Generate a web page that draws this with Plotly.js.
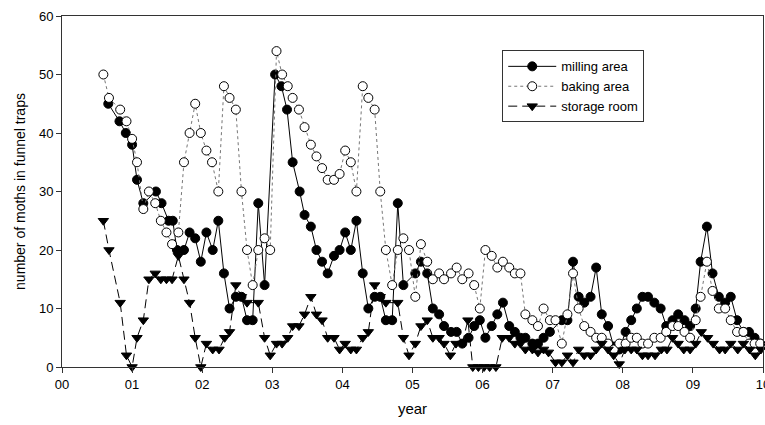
<!DOCTYPE html>
<html>
<head>
<meta charset="utf-8">
<script src="https://cdn.plot.ly/plotly-3.0.1.min.js"></script>
<style>html,body{margin:0;padding:0;background:#fff}#chart{width:765px;height:425px}</style>
</head>
<body>
<div id="chart"></div>
<script>
const millingX = [0.66,0.82,0.91,1.00,1.07,1.16,1.34,1.42,1.52,1.58,1.64,1.74,1.82,1.90,1.98,2.06,2.15,2.23,2.31,2.39,2.48,2.56,2.64,2.72,2.80,2.89,3.04,3.13,3.21,3.29,3.39,3.46,3.55,3.63,3.71,3.79,3.88,3.96,4.04,4.12,4.20,4.29,4.37,4.46,4.54,4.62,4.71,4.79,4.87,5.04,5.12,5.21,5.29,5.38,5.45,5.55,5.63,5.71,5.80,5.88,5.96,6.04,6.13,6.21,6.29,6.38,6.46,6.54,6.61,6.71,6.79,6.87,6.96,7.13,7.21,7.29,7.37,7.45,7.54,7.62,7.70,7.79,7.87,7.95,8.04,8.12,8.20,8.28,8.36,8.45,8.54,8.62,8.71,8.79,8.88,8.96,9.04,9.11,9.20,9.28,9.37,9.46,9.54,9.63,9.72,9.80,9.88,9.96];
const millingY = [45,42,40,38,32,28,30,28,25,25,20,20,23,22,18,23,20,25,16,10,12,12,8,8,28,14,50,48,44,35,30,26,24,20,18,16,19,20,23,20,25,16,10,12,12,8,8,28,14,16,18,16,10,9,7,6,6,4,5,7,8,5,7,9,11,7,6,5,5,4,4,5,6,8,8,18,12,11,12,17,9,7,3.5,3,6,8,10,12,12,11,10,7,8,9,8,7,10,18,24,16,12,11,12,8,6,6,5,4];

const bakingX = [0.59,0.67,0.83,0.92,1.00,1.07,1.16,1.24,1.33,1.41,1.49,1.57,1.66,1.74,1.82,1.90,1.98,2.06,2.14,2.23,2.31,2.39,2.48,2.56,2.64,2.72,2.80,2.89,2.97,3.06,3.14,3.22,3.29,3.38,3.46,3.55,3.63,3.71,3.79,3.88,3.96,4.04,4.12,4.20,4.29,4.37,4.46,4.54,4.62,4.71,4.79,4.87,4.95,5.04,5.12,5.21,5.29,5.38,5.45,5.55,5.63,5.71,5.80,5.88,5.96,6.04,6.13,6.21,6.29,6.38,6.46,6.54,6.61,6.71,6.79,6.87,6.96,7.04,7.13,7.21,7.29,7.37,7.45,7.54,7.62,7.70,7.79,7.87,7.95,8.04,8.12,8.20,8.28,8.36,8.45,8.54,8.62,8.71,8.79,8.88,8.96,9.04,9.11,9.20,9.28,9.37,9.46,9.54,9.63,9.72,9.80,9.88,9.96];
const bakingY = [50,46,44,42,39,35,27,30,28,25,23,21,23,35,40,45,40,37,35,30,48,46,44,30,20,14,20,22,20,54,50,48,46,44,41,38,36,34,32,32,33,37,35,30,48,46,44,30,20,14,20,22,20,12,21,18,15,16,15,16,17,15,16,14,10,20,19,17,18,17,16,16,9,8,7,10,8,8,4,9,16,10,7,6,5,5,4,3,4,4,5,5,4,4,5,5,6,7,7,6,5,8,12,18,13,10,10,8,6,6,4,4,4];

const storageX = [0.59,0.67,0.83,0.92,1.00,1.07,1.16,1.24,1.33,1.41,1.49,1.57,1.66,1.74,1.82,1.90,1.98,2.06,2.15,2.24,2.32,2.39,2.48,2.56,2.64,2.80,2.89,2.97,3.06,3.14,3.22,3.29,3.38,3.46,3.55,3.63,3.71,3.79,3.88,3.96,4.04,4.12,4.20,4.29,4.37,4.46,4.54,4.62,4.79,4.87,4.95,5.04,5.12,5.21,5.29,5.38,5.45,5.54,5.62,5.71,5.79,5.86,5.94,6.02,6.10,6.19,6.28,6.38,6.46,6.54,6.61,6.71,6.79,6.87,6.94,7.04,7.13,7.21,7.29,7.37,7.45,7.54,7.62,7.70,7.79,7.87,7.95,8.03,8.12,8.20,8.28,8.36,8.46,8.55,8.63,8.71,8.79,8.87,8.96,9.04,9.12,9.21,9.29,9.38,9.46,9.54,9.64,9.72,9.81,9.89,9.97];
const storageY = [25,20,11,2,0,5,8,15,16,15,15,15,19,15,11,5,0,4,3,3,5,6,14,12,11,11,5,2,4,4,5,7,7,9,12,9,8,5,5,3,4,3,3,5,6,14,12,11,11,5,2,4,7,8,5,5,4,2,4,4,8,0,0,0,0,0,5,5,4,4,3,3,2.5,3,2.5,0.8,0.8,2,0.8,3,2,2,3,4,3,2,0.5,3,3,3,2,2,2,3,3,5,4,3,3,4,6,5,4,3,3,4,3,4,3,2,3];

const yearTickVals = [0,1,2,3,4,5,6,7,8,9,10];
const yearTickText = ['00','01','02','03','04','05','06','07','08','09','10'];

const FONT = 'Liberation Sans, Arial, sans-serif';

const traces = [
  {
    x: millingX, y: millingY, name: 'milling area', type: 'scatter', mode: 'lines+markers',
    line: {color: '#000', width: 1},
    marker: {symbol: 'circle', size: 9, color: '#000', line: {color: '#000', width: 1}},
    cliponaxis: false
  },
  {
    x: bakingX, y: bakingY, name: 'baking area', type: 'scatter', mode: 'lines+markers',
    line: {color: '#777', width: 1, dash: 'dot'},
    marker: {symbol: 'circle', size: 9, color: '#fff', line: {color: '#000', width: 1}},
    cliponaxis: false
  },
  {
    x: storageX, y: storageY, name: 'storage room', type: 'scatter', mode: 'lines+markers',
    line: {color: '#000', width: 1, dash: '9px,5px'},
    marker: {symbol: 'triangle-down', size: 9, color: '#000', line: {color: '#000', width: 1}},
    cliponaxis: false
  }
];

const layout = {
  width: 765, height: 425,
  margin: {l: 62, r: 2, t: 16, b: 58},
  paper_bgcolor: '#fff', plot_bgcolor: '#fff',
  font: {family: FONT, size: 13, color: '#000'},
  showlegend: true,
  legend: {
    x: 0.628, y: 0.902, xanchor: 'left', yanchor: 'top',
    bordercolor: '#333', borderwidth: 1, bgcolor: '#fff',
    font: {family: FONT, size: 13, color: '#000'},
    tracegroupgap: 0, itemwidth: 48
  },
  xaxis: {
    range: [0, 10], tickvals: yearTickVals, ticktext: yearTickText,
    showgrid: false, zeroline: false, showline: true, linecolor: '#333', linewidth: 1, mirror: true,
    ticks: 'outside', ticklen: 5, tickcolor: '#333', ticklabeloverflow: 'allow',
    tickfont: {family: FONT, size: 13},
    title: {text: 'year', font: {family: FONT, size: 15}, standoff: 12}
  },
  yaxis: {
    range: [0, 60], tickvals: [0,10,20,30,40,50,60],
    showgrid: false, zeroline: false, showline: true, linecolor: '#333', linewidth: 1, mirror: true,
    ticks: 'outside', ticklen: 5, tickcolor: '#333',
    tickfont: {family: FONT, size: 13},
    title: {text: 'number of moths in funnel traps', font: {family: FONT, size: 14}, standoff: 10}
  }
};

Plotly.newPlot('chart', traces, layout, {staticPlot: true, displayModeBar: false});
</script>
</body>
</html>
